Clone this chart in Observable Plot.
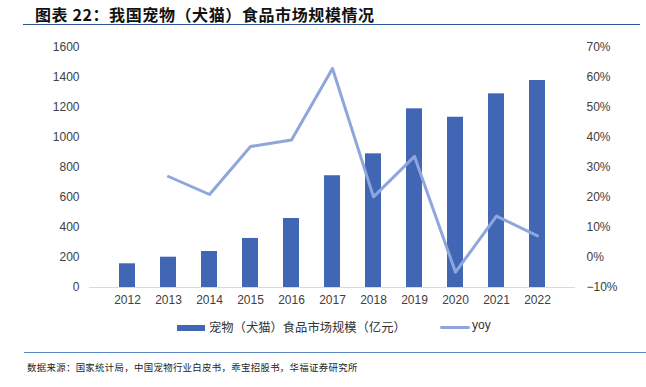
<!DOCTYPE html>
<html>
<head>
<meta charset="utf-8">
<script src="https://cdn.jsdelivr.net/npm/d3@7"></script>
<script src="https://cdn.jsdelivr.net/npm/@observablehq/plot@0.6"></script>
<style>
  html, body { margin: 0; padding: 0; background: #fff; }
  #wrap { position: relative; width: 646px; height: 387px; overflow: hidden; font-family: "Noto Sans CJK SC", sans-serif; }
  #title { position: absolute; left: 35px; top: 2px; font-size: 16px; font-weight: bold; color: #111; letter-spacing: 0.6px; white-space: nowrap; }
  #tline { position: absolute; left: 23px; top: 24px; width: 617px; height: 0; border-top: 1.5px solid #2f5597; }
  #chart { position: absolute; left: 0; top: 0; }
  #legend { position: absolute; left: 0; top: 318px; width: 646px; height: 20px; font-size: 12.3px; color: #333; }
  .lg { position: absolute; white-space: nowrap; }
  #bline { position: absolute; left: 24px; top: 352px; width: 622px; height: 0; border-top: 1.5px solid #5b87c5; }
  #caption { position: absolute; left: 27px; top: 360px; font-size: 9.4px; letter-spacing: 0.35px; color: #222; white-space: nowrap; }
</style>
</head>
<body>
<div id="wrap">
  <div id="title">图表 22：我国宠物（犬猫）食品市场规模情况</div>
  <div id="tline"></div>
  <div id="chart"></div>
  <div id="legend">
    <div class="lg" style="left:177px;top:7px;width:28px;height:6px;background:#4066b4;"></div>
    <div class="lg" style="left:209px;top:0px;">宠物（犬猫）食品市场规模（亿元）</div>
    <div class="lg" style="left:440px;top:8px;width:30px;height:3px;background:#8fa6dc;border-radius:1.5px;"></div>
    <div class="lg" style="left:472px;top:0px;font-family:'Liberation Sans',Arial,sans-serif;font-size:12px;">yoy</div>
  </div>
  <div id="bline"></div>
  <div id="caption">数据来源：国家统计局，中国宠物行业白皮书，乖宝招股书，华福证券研究所</div>
</div>
<script>
const years = ["2012","2013","2014","2015","2016","2017","2018","2019","2020","2021","2022"];
const marketSize = [158, 202, 240, 327, 460, 745, 891, 1191, 1135, 1291, 1380];
const yoy = [null, 27.0, 21.0, 37.0, 39.2, 63.0, 20.2, 33.7, -4.9, 13.8, 7.2];
const leftTicks = [0, 200, 400, 600, 800, 1000, 1200, 1400, 1600];
const rightTickLabels = ["−10%","0%","10%","20%","30%","40%","50%","60%","70%"];

// map yoy (% from -10 to 70) onto the left scale range 0..1600
const toLeft = v => (v + 10) * 20;

const bars = years.map((y, i) => ({year: y, value: marketSize[i]}));
const line = years.map((y, i) => ({year: y, yoy: yoy[i]})).filter(d => d.yoy !== null);

const chart = Plot.plot({
  width: 646,
  height: 310,
  marginTop: 47,
  marginBottom: 23,
  marginLeft: 89,
  marginRight: 71,
  style: { fontFamily: "'Liberation Sans', Arial, sans-serif", fontSize: "12px", color: "#404040", background: "transparent" },
  x: { domain: years, padding: 0.6, label: null },
  y: { domain: [0, 1600], label: null },
  marks: [
    Plot.barY(bars, { x: "year", y: "value", fill: "#4066b4" }),
    Plot.ruleY([0], { stroke: "#d9d9d9", strokeWidth: 1.2 }),
    Plot.line(line, { x: "year", y: d => toLeft(d.yoy), stroke: "#8fa6dc", strokeWidth: 3, strokeLinejoin: "round", strokeLinecap: "round" }),
    Plot.axisX({ tickSize: 0, tickPadding: 8, label: null, fill: "#404040" }),
    Plot.axisY({ anchor: "left", ticks: leftTicks, tickSize: 0, tickPadding: 10, label: null, fill: "#404040",
      tickFormat: d => String(d) }),
    Plot.axisY({ anchor: "right", ticks: leftTicks, tickSize: 0, tickPadding: 11, label: null, fill: "#404040",
      tickFormat: d => rightTickLabels[leftTicks.indexOf(d)] })
  ]
});
document.getElementById("chart").appendChild(chart);
</script>
</body>
</html>
